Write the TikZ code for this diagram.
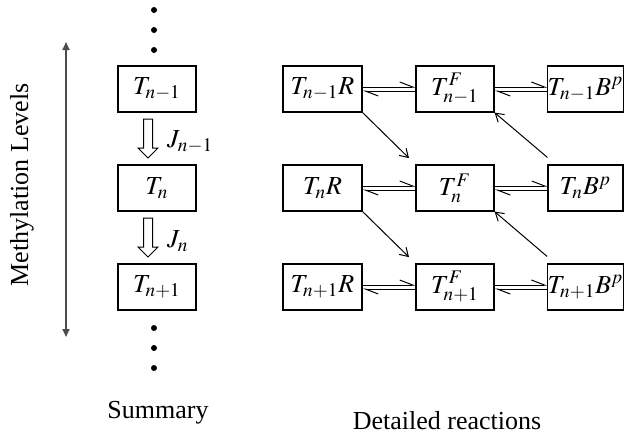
\documentclass[tikz,border=0pt]{standalone}
\usepackage{mathptmx}
\usepackage{fontspec}
\setmainfont{Liberation Serif}
\usepackage{tikz}
\usetikzlibrary{shapes, arrows.meta}
\tikzstyle{level} = [rectangle, minimum width=39pt, minimum height=23pt, inner sep=0pt, text centered, draw=black, line width=0.6pt]
\tikzstyle{species} = [rectangle, minimum width=39pt, minimum height=23pt, inner sep=0pt, text centered, draw=black, line width=0.6pt]
\tikzstyle{dot} = [circle, fill=black, inner sep=0pt, minimum size=3pt]
\tikzstyle{hollow} = [draw=black, fill=white, line width=0.5pt, line join=miter]
\tikzstyle{fwd} = [line width=0.5pt, -{Straight Barb[left, length=6.5pt, width=5pt]}]
\tikzstyle{arrow} = [line width=0.5pt, -{Straight Barb[length=4pt, width=5pt]}]
\tikzstyle{levelarrow} = [line width=0.8pt, black!70, {Triangle[length=4pt, width=3.5pt]}-{Triangle[length=4pt, width=3.5pt]}]

\begin{document}
\begin{tikzpicture}[x=0.5pt, y=-0.5pt, every node/.style={font=\fontsize{13}{15}\selectfont}]
\useasboundingbox (0,0) rectangle (625,440);

% summary column
\node (dtopa) [dot] at (154,10) {};
\node (dtopb) [dot] at (154,30) {};
\node (dtopc) [dot] at (154,50) {};
\node (tsone) [level] at (157,89) {$T_{n-1}$};
\node (tstwo) [level] at (157,188) {$T_{n}$};
\node (tsthree) [level] at (157,287) {$T_{n+1}$};
\node (dbota) [dot] at (154,328) {};
\node (dbotb) [dot] at (154,348) {};
\node (dbotc) [dot] at (154,368) {};

\draw [hollow] (143.5,119) -- (152.5,119) -- (152.5,148) -- (158,148) -- (148,158) -- (138,148) -- (143.5,148) -- cycle;
\draw [hollow] (143.5,218) -- (152.5,218) -- (152.5,247) -- (158,247) -- (148,257) -- (138,247) -- (143.5,247) -- cycle;
\node (jone) [anchor=west] at (160,142) {$J_{n-1}$};
\node (jtwo) [anchor=west] at (160,241) {$J_{n}$};

\coordinate (mtop) at (66,42);
\coordinate (mbot) at (66,337);
\draw [levelarrow] (mtop) -- (mbot);
\node (methyl) [rotate=90] at (22,185) {Methylation Levels};

% detailed reactions
\node (rone) [species, minimum width=39.5pt] at (322.5,89) {$T_{n-1}R$};
\node (fone) [species] at (455,89) {$T^{F}_{n-1}$};
\node (bone) [species, minimum width=37.5pt] at (585.5,89) {$T_{n-1}B^{p}$};
\node (rtwo) [species, minimum width=39.5pt] at (322.5,188) {$T_{n}R$};
\node (ftwo) [species] at (455,188) {$T^{F}_{n}$};
\node (btwo) [species, minimum width=37.5pt] at (585.5,188) {$T_{n}B^{p}$};
\node (rthree) [species, minimum width=39.5pt] at (322.5,287) {$T_{n+1}R$};
\node (fthree) [species] at (455,287) {$T^{F}_{n+1}$};
\node (bthree) [species, minimum width=37.5pt] at (585.5,287) {$T_{n+1}B^{p}$};

\draw [fwd] ([yshift=1pt]rone.east) -- ([yshift=1pt]fone.west);
\draw [fwd] ([yshift=-1pt]fone.west) -- ([yshift=-1pt]rone.east);
\draw [fwd] ([yshift=1pt]fone.east) -- ([yshift=1pt]bone.west);
\draw [fwd] ([yshift=-1pt]bone.west) -- ([yshift=-1pt]fone.east);
\draw [fwd] ([yshift=1pt]rtwo.east) -- ([yshift=1pt]ftwo.west);
\draw [fwd] ([yshift=-1pt]ftwo.west) -- ([yshift=-1pt]rtwo.east);
\draw [fwd] ([yshift=1pt]ftwo.east) -- ([yshift=1pt]btwo.west);
\draw [fwd] ([yshift=-1pt]btwo.west) -- ([yshift=-1pt]ftwo.east);
\draw [fwd] ([yshift=1pt]rthree.east) -- ([yshift=1pt]fthree.west);
\draw [fwd] ([yshift=-1pt]fthree.west) -- ([yshift=-1pt]rthree.east);
\draw [fwd] ([yshift=1pt]fthree.east) -- ([yshift=1pt]bthree.west);
\draw [fwd] ([yshift=-1pt]bthree.west) -- ([yshift=-1pt]fthree.east);

\draw [arrow, shorten >=4.5pt] (rone.south east) -- (ftwo.north west);
\draw [arrow, shorten >=4.5pt] (rtwo.south east) -- (fthree.north west);
\draw [arrow] ([yshift=3.5pt]btwo.north west) -- (fone.south east);
\draw [arrow] ([yshift=3.5pt]bthree.north west) -- (ftwo.south east);

\node (summary) at (158,413) {Summary};
\node (detailed) at (447,421) {Detailed reactions};
\end{tikzpicture}
\end{document}
